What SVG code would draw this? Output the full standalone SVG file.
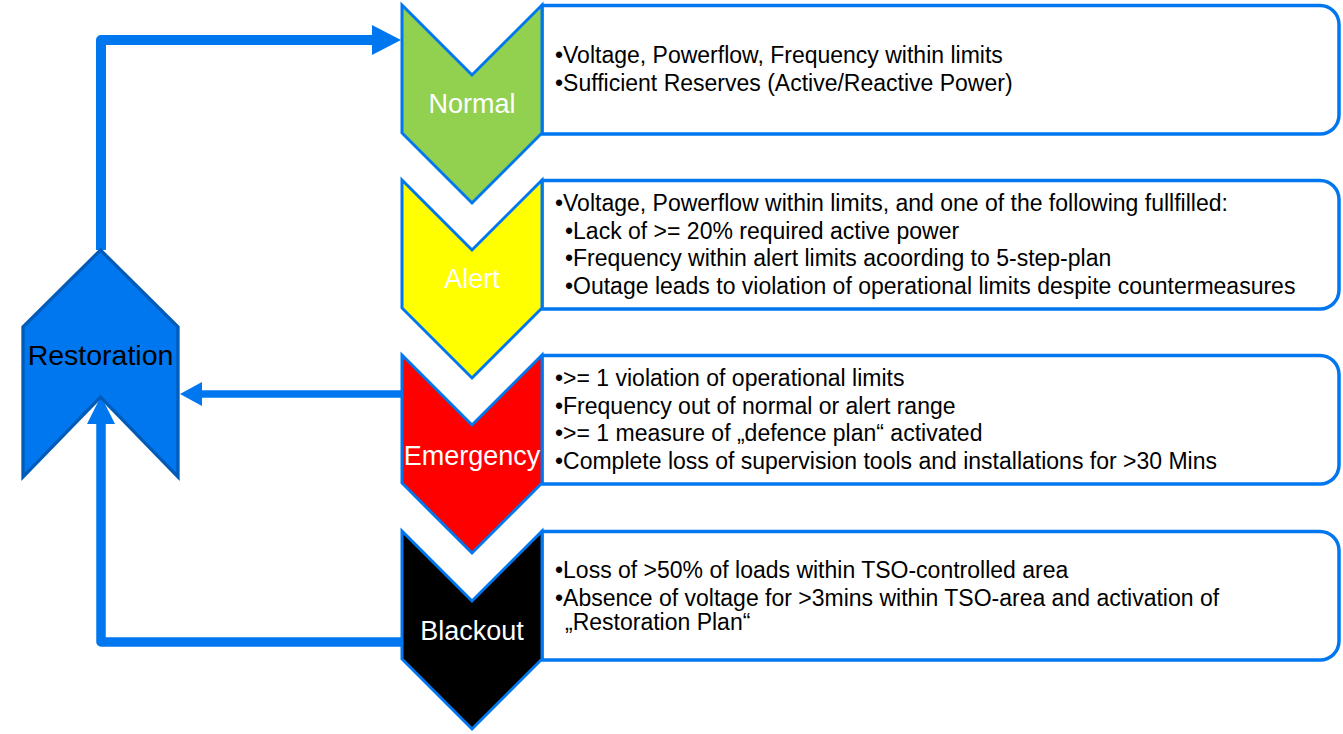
<svg xmlns="http://www.w3.org/2000/svg" width="1343" height="734" viewBox="0 0 1343 734">
<style>
.box{fill:#fff;stroke:#0077EE;stroke-width:3.5;stroke-linejoin:round}
.chev{stroke:#0077EE;stroke-width:3;stroke-linejoin:miter}
.lbl{font-family:"Liberation Sans",Arial,sans-serif;font-size:27px;fill:#fff;text-anchor:middle}
.txt{font-family:"Liberation Sans",Arial,sans-serif;font-size:23px;fill:#000}
.conn{fill:none;stroke:#0077EE;stroke-linejoin:round}
.head{fill:#0077EE}
</style>
<rect width="1343" height="734" fill="#fff"/>
<g id="connectors">
<path class="conn" d="M101,250 V40 H374" stroke-width="10"/>
<polygon class="head" points="372,25 401,40 372,55"/>
<path class="conn" d="M402,394 H200" stroke-width="7.5"/>
<polygon class="head" points="202,382 180,394 202,406"/>
<path class="conn" d="M402,642 H101 V422" stroke-width="9.5"/>
<polygon class="head" points="87,424 101,396 115,424"/>
</g>
<g id="restoration">
<polygon points="23,327 100.5,250 178,327 178,477 100.5,397 23,477" fill="#0077EE" stroke="#005CB8" stroke-width="3.3"/>
<text x="100.5" y="365" text-anchor="middle" font-family="Liberation Sans, Arial, sans-serif" font-size="28.5" fill="#000">Restoration</text>
</g>
<g id="normal">
<path class="box" d="M542,5.5 H1320 A19,19 0 0 1 1339,24.5 V115 A19,19 0 0 1 1320,134 H542 Z"/>
<polygon class="chev" fill="#92D050" points="402,5 472,75 542,5 542,133 472,203 402,133"/>
<text class="lbl" x="472" y="113">Normal</text>
<text class="txt" x="555" y="63">•Voltage, Powerflow, Frequency within limits</text>
<text class="txt" x="555" y="91">•Sufficient Reserves (Active/Reactive Power)</text>
</g>
<g id="alert">
<path class="box" d="M542,180.5 H1320 A19,19 0 0 1 1339,199.5 V290 A19,19 0 0 1 1320,309 H542 Z"/>
<polygon class="chev" fill="#FFFF00" points="402,180 472,250 542,180 542,308 472,378 402,308"/>
<text class="lbl" x="472" y="288">Alert</text>
<text class="txt" x="555" y="211">•Voltage, Powerflow within limits, and one of the following fullfilled:</text>
<text class="txt" x="565" y="238.5">•Lack of &gt;= 20% required active power</text>
<text class="txt" x="565" y="266">•Frequency within alert limits acoording to 5-step-plan</text>
<text class="txt" x="565" y="293.5">•Outage leads to violation of operational limits despite countermeasures</text>
</g>
<g id="emergency">
<path class="box" d="M542,355.5 H1320 A19,19 0 0 1 1339,374.5 V465 A19,19 0 0 1 1320,484 H542 Z"/>
<polygon class="chev" fill="#FF0000" points="402,355 472,425 542,355 542,483 472,553 402,483"/>
<text class="lbl" x="472" y="465">Emergency</text>
<text class="txt" x="555" y="386">•&gt;= 1 violation of operational limits</text>
<text class="txt" x="555" y="414">•Frequency out of normal or alert range</text>
<text class="txt" x="555" y="441">•&gt;= 1 measure of „defence plan“ activated</text>
<text class="txt" x="555" y="469">•Complete loss of supervision tools and installations for &gt;30 Mins</text>
</g>
<g id="blackout">
<path class="box" d="M542,531.5 H1320 A19,19 0 0 1 1339,550.5 V641 A19,19 0 0 1 1320,660 H542 Z"/>
<polygon class="chev" fill="#000000" points="402,531 472,601 542,531 542,659 472,729 402,659"/>
<text class="lbl" x="472" y="640">Blackout</text>
<text class="txt" x="555" y="578">•Loss of &gt;50% of loads within TSO-controlled area</text>
<text class="txt" x="555" y="606">•Absence of voltage for &gt;3mins within TSO-area and activation of</text>
<text class="txt" x="565" y="630">„Restoration Plan“</text>
</g>
</svg>
